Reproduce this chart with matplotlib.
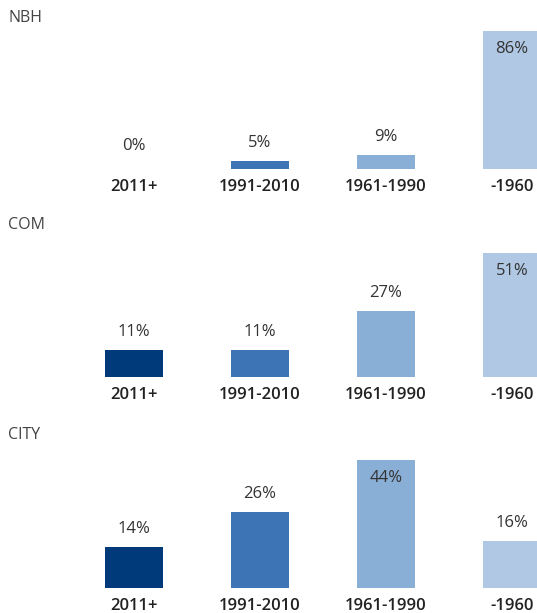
import matplotlib
matplotlib.use("Agg")
from matplotlib import pyplot as plt

plt.rcParams['font.family'] = ['Open Sans', 'DejaVu Sans']

periods = ["2011+", "1991-2010", "1961-1990", "-1960"]
panels = ["NBH", "COM", "CITY"]
nbh = [0, 5, 9, 86]
com = [11, 11, 27, 51]
city = [14, 26, 44, 16]
colors = ["#003a7a", "#3d74b6", "#8aafd6", "#b0c8e3"]

W, H = 537, 613
fig = plt.figure(figsize=(W / 100, H / 100), dpi=100)

# baseline and top of tallest bar (pixels from top), title y
layout = [(169, 31, 18), (377, 253, 225), (588, 460, 435)]
x = list(range(len(periods)))
left = -134 / 126
right = (W - 134) / 126

for name, vals, (base, top, ty) in zip(panels, [nbh, com, city], layout):
    ax = fig.add_axes([0, 1 - base / H, 1, (base - top) / H])
    ax.bar(x, vals, width=0.46, color=colors)
    ax.set_xlim(left, right)
    ax.set_ylim(0, max(vals))
    ax.axis('off')
    for i, v in enumerate(vals):
        # biggest bar gets its label inside
        off = -18 if v == max(vals) else (23 if v == 0 else 18)
        ax.annotate(f"{v}%", (i, v), xytext=(0, off), textcoords='offset pixels',
                    ha='center', va='center', fontsize=12, color='#333333')
        ax.annotate(periods[i], (i, 0), xytext=(0, -18), textcoords='offset pixels',
                    ha='center', va='center', fontsize=12, fontweight='semibold',
                    color='#222222', annotation_clip=False)
    fig.text(8 / W, 1 - ty / H, name, ha='left', va='center', fontsize=11.5, color='#444444')

fig.savefig("out.png", dpi=100)
